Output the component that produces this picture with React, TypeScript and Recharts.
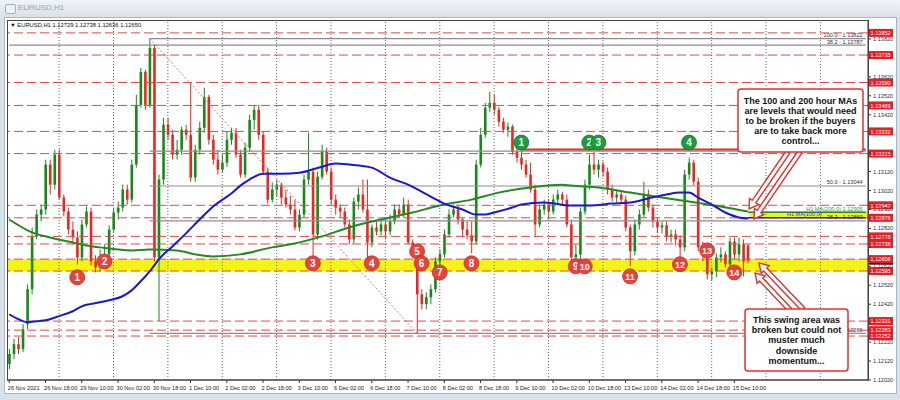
import React from "react";
import {
  Bar,
  ComposedChart,
  Line,
  ReferenceArea,
  ReferenceDot,
  ReferenceLine,
  XAxis,
  YAxis,
} from "recharts";

// EURUSD, 2-hour candles (26 Nov - 15 Dec 2021)
// one row = 16 hours = one time label on the x axis
const opens = [
  1.12104, 1.12157, 1.12209, 1.12183, 1.12315, 1.12499, 1.12778, 1.12893,
  1.1292, 1.13157, 1.13051, 1.13209, 1.12983, 1.12909, 1.12814, 1.12772,
  1.12667, 1.12841, 1.12909, 1.12646, 1.12614, 1.12657, 1.12683, 1.12814,
  1.12904, 1.1293, 1.13025, 1.12972, 1.13157, 1.13472, 1.13646, 1.13472,
  1.13772, 1.12667, 1.13078, 1.13367, 1.13314, 1.13209, 1.13235, 1.13341,
  1.13314, 1.13088, 1.13235, 1.13351, 1.13514, 1.13288, 1.13183, 1.1313,
  1.13167, 1.13288, 1.13325, 1.13209, 1.13104, 1.13246, 1.13393, 1.13446,
  1.13314, 1.1312, 1.12972, 1.13025, 1.13051, 1.12983, 1.12946, 1.1292,
  1.12825, 1.12893, 1.13078, 1.1312, 1.12788, 1.13093, 1.13225, 1.1312,
  1.12972, 1.1293, 1.12909, 1.12841, 1.12762, 1.12962, 1.12999, 1.1292,
  1.12746, 1.12825, 1.12804, 1.12841, 1.12804, 1.12857, 1.1292, 1.12893,
  1.12946, 1.12746, 1.12709, 1.12472, 1.1242, 1.12457, 1.12499, 1.12646,
  1.12683, 1.12788, 1.12893, 1.1292, 1.12867, 1.12814, 1.12783, 1.12751,
  1.13157, 1.13314, 1.13457, 1.13483, 1.13446, 1.13383, 1.13341, 1.13357,
  1.13225, 1.13193, 1.13157, 1.13104, 1.13025, 1.12841, 1.1292, 1.12946,
  1.12909, 1.12972, 1.12999, 1.12972, 1.12841, 1.12667, 1.12683, 1.12909,
  1.13051, 1.13157, 1.1313, 1.13157, 1.1312, 1.13025, 1.12983, 1.12999,
  1.12972, 1.12825, 1.12699, 1.12841, 1.12893, 1.12999, 1.1293, 1.12857,
  1.12825, 1.12836, 1.12778, 1.12788, 1.12762, 1.1272, 1.13104, 1.13167,
  1.13067, 1.1272, 1.12683, 1.12578, 1.12593, 1.12667, 1.12683, 1.1263,
  1.12751, 1.12683, 1.12736, 1.12729,
];
const highs = [
  1.12183, 1.12236, 1.12246, 1.12315, 1.12525, 1.12825, 1.1292, 1.12946,
  1.13183, 1.13183, 1.13235, 1.13235, 1.12999, 1.1293, 1.12857, 1.12804,
  1.12867, 1.12936, 1.1293, 1.12678, 1.12709, 1.12736, 1.12836, 1.1293,
  1.12962, 1.13051, 1.13051, 1.13183, 1.13525, 1.13667, 1.13657, 1.13822,
  1.13793, 1.13104, 1.13404, 1.13404, 1.13341, 1.13288, 1.13357, 1.13367,
  1.1359, 1.13262, 1.13383, 1.13562, 1.13525, 1.13314, 1.13235, 1.13209,
  1.1333, 1.13351, 1.13351, 1.13235, 1.13272, 1.1342, 1.13472, 1.13472,
  1.1333, 1.13141, 1.13062, 1.13078, 1.13062, 1.13025, 1.12993, 1.12972,
  1.1292, 1.13104, 1.13325, 1.13141, 1.1312, 1.13262, 1.13246, 1.13141,
  1.12999, 1.12946, 1.1293, 1.12867, 1.12983, 1.13036, 1.13078, 1.13078,
  1.12841, 1.12857, 1.12867, 1.12867, 1.12893, 1.12946, 1.12946, 1.12983,
  1.12972, 1.12762, 1.12725, 1.12499, 1.12483, 1.12525, 1.12667, 1.12709,
  1.12814, 1.1292, 1.12946, 1.12946, 1.12878, 1.12857, 1.12857, 1.13183,
  1.13351, 1.13483, 1.13541, 1.13525, 1.13462, 1.13404, 1.13378, 1.13367,
  1.13246, 1.13235, 1.13183, 1.13167, 1.13051, 1.12946, 1.12972, 1.12972,
  1.12999, 1.13025, 1.13014, 1.12999, 1.12867, 1.12736, 1.1293, 1.13078,
  1.13209, 1.13225, 1.13183, 1.13172, 1.13141, 1.13051, 1.13025, 1.13014,
  1.12993, 1.12841, 1.12867, 1.1292, 1.13067, 1.13025, 1.12946, 1.12878,
  1.12857, 1.12857, 1.12814, 1.12814, 1.12783, 1.1313, 1.13193, 1.13183,
  1.13088, 1.12751, 1.12709, 1.12614, 1.12688, 1.1272, 1.12699, 1.12772,
  1.12772, 1.12772, 1.12762, 1.12738,
];
const lows = [
  1.12078, 1.1213, 1.12157, 1.12167, 1.12288, 1.12472, 1.12762, 1.12857,
  1.12893, 1.12999, 1.13025, 1.12972, 1.12883, 1.12788, 1.12736, 1.1263,
  1.12646, 1.12825, 1.12625, 1.12588, 1.12593, 1.12614, 1.12667, 1.12799,
  1.12867, 1.12909, 1.12946, 1.12957, 1.13141, 1.13457, 1.13446, 1.13457,
  1.12646, 1.12331, 1.13051, 1.13288, 1.13183, 1.13183, 1.13209, 1.13288,
  1.13067, 1.13067, 1.13209, 1.13325, 1.13262, 1.13157, 1.13104, 1.13114,
  1.13146, 1.13262, 1.13193, 1.13088, 1.13088, 1.13225, 1.13341, 1.13288,
  1.13104, 1.12951, 1.12957, 1.12988, 1.12946, 1.1293, 1.12893, 1.12809,
  1.12804, 1.12878, 1.13051, 1.12651, 1.12762, 1.13078, 1.13104, 1.12946,
  1.12893, 1.12878, 1.12825, 1.12736, 1.12741, 1.1292, 1.12904, 1.12657,
  1.1272, 1.12783, 1.12783, 1.12762, 1.12783, 1.12841, 1.12878, 1.12878,
  1.12736, 1.12683, 1.12266, 1.12393, 1.12393, 1.1242, 1.12483, 1.12625,
  1.12667, 1.12772, 1.12878, 1.12841, 1.12772, 1.12762, 1.12688, 1.12736,
  1.13141, 1.13299, 1.13435, 1.1342, 1.13357, 1.13325, 1.13304, 1.13209,
  1.13167, 1.1313, 1.13088, 1.13009, 1.12778, 1.12825, 1.12893, 1.12867,
  1.12893, 1.12946, 1.12946, 1.12825, 1.12646, 1.12641, 1.12646, 1.12893,
  1.13025, 1.13104, 1.13088, 1.13093, 1.12999, 1.12962, 1.12957, 1.12951,
  1.12804, 1.1262, 1.12678, 1.12814, 1.12878, 1.12909, 1.12825, 1.12794,
  1.12794, 1.12751, 1.12746, 1.1273, 1.12667, 1.12699, 1.13078, 1.13046,
  1.12699, 1.12646, 1.12551, 1.12546, 1.12562, 1.12641, 1.12614, 1.12614,
  1.12657, 1.12646, 1.12567, 1.12636,
];
const closes = [
  1.12157, 1.12209, 1.12183, 1.12288, 1.12499, 1.12778, 1.12893, 1.1292,
  1.13157, 1.13051, 1.13209, 1.12983, 1.12909, 1.12814, 1.12772, 1.12667,
  1.12841, 1.12909, 1.12646, 1.12614, 1.12657, 1.12683, 1.12814, 1.12904,
  1.1293, 1.13025, 1.12972, 1.13157, 1.13472, 1.13646, 1.13472, 1.13772,
  1.12667, 1.13078, 1.13367, 1.13314, 1.13209, 1.13235, 1.13341, 1.13314,
  1.13088, 1.13235, 1.13351, 1.13514, 1.13288, 1.13183, 1.1313, 1.13167,
  1.13288, 1.13325, 1.13209, 1.13104, 1.13246, 1.13393, 1.13446, 1.13314,
  1.1312, 1.12972, 1.13025, 1.13051, 1.12983, 1.12946, 1.1292, 1.12825,
  1.12893, 1.13078, 1.1312, 1.12788, 1.13093, 1.13225, 1.1312, 1.12972,
  1.1293, 1.12909, 1.12841, 1.12762, 1.12962, 1.12999, 1.1292, 1.12746,
  1.12825, 1.12804, 1.12841, 1.12804, 1.12857, 1.1292, 1.12893, 1.12946,
  1.12746, 1.12709, 1.12472, 1.1242, 1.12457, 1.12499, 1.12646, 1.12683,
  1.12788, 1.12893, 1.1292, 1.12867, 1.12814, 1.12783, 1.12751, 1.13157,
  1.13314, 1.13457, 1.13483, 1.13446, 1.13383, 1.13341, 1.13357, 1.13225,
  1.13193, 1.13157, 1.13104, 1.13025, 1.12841, 1.1292, 1.12946, 1.12909,
  1.12972, 1.12999, 1.12972, 1.12841, 1.12667, 1.12683, 1.12909, 1.13051,
  1.13157, 1.1313, 1.13157, 1.1312, 1.13025, 1.12983, 1.12999, 1.12972,
  1.12825, 1.12699, 1.12841, 1.12893, 1.12999, 1.1293, 1.12857, 1.12825,
  1.12836, 1.12778, 1.12788, 1.12762, 1.1272, 1.13104, 1.13167, 1.13067,
  1.1272, 1.12683, 1.12578, 1.12593, 1.12667, 1.12683, 1.1263, 1.12751,
  1.12683, 1.12736, 1.12646, 1.1265,
];

// moving averages, read at [candle index, price]
const ma100: [number, number][] = [
  [0, 1.12367], [2, 1.12341], [4, 1.12325], [6, 1.1233], [9, 1.12341], [11, 1.12357],
  [14, 1.12383], [16, 1.12409], [20, 1.1243], [22, 1.12441], [25, 1.12462], [27, 1.12493],
  [29, 1.12541], [31, 1.12593], [33, 1.12657], [36, 1.12725], [39, 1.12794], [42, 1.12867],
  [45, 1.12936], [49, 1.13004], [51, 1.13046], [53, 1.13078], [56, 1.13109], [60, 1.13109],
  [64, 1.13114], [69, 1.13146], [72, 1.13162], [75, 1.13157], [80, 1.13141], [84, 1.13088],
  [88, 1.13051], [93, 1.12988], [96, 1.12951], [100, 1.1292], [103, 1.12893], [105, 1.12893],
  [107, 1.12904], [111, 1.1293], [113, 1.12946], [118, 1.12957], [124, 1.12941], [128, 1.12941],
  [133, 1.12951], [137, 1.12957], [141, 1.12978], [145, 1.12999], [148, 1.13009], [150, 1.13009],
  [152, 1.12983], [155, 1.12946], [158, 1.12904], [161, 1.12878], [163, 1.12872],
];
const ma200: [number, number][] = [
  [0, 1.12867], [5, 1.12799], [9, 1.12772], [13, 1.12751], [17, 1.1273], [20, 1.1272],
  [27, 1.12704], [31, 1.12709], [37, 1.12704], [41, 1.12683], [45, 1.12672], [51, 1.12683],
  [58, 1.1272], [62, 1.12736], [69, 1.12778], [75, 1.12825], [82, 1.12867], [89, 1.12904],
  [95, 1.12941], [102, 1.12972], [108, 1.13009], [115, 1.13036], [122, 1.13051], [124, 1.13046],
  [130, 1.13036], [137, 1.13009], [144, 1.12983], [150, 1.12962], [157, 1.12936], [163, 1.12909],
];

const timeLabels = [
  "26 Nov 2021", "26 Nov 18:00", "29 Nov 10:00", "30 Nov 02:00", "30 Nov 18:00",
  "1 Dec 10:00", "2 Dec 02:00", "2 Dec 18:00", "3 Dec 10:00", "6 Dec 02:00",
  "6 Dec 18:00", "7 Dec 10:00", "8 Dec 02:00", "8 Dec 18:00", "9 Dec 10:00",
  "10 Dec 02:00", "10 Dec 18:00", "13 Dec 10:00", "14 Dec 02:00", "14 Dec 18:00",
  "15 Dec 10:00",
];
const priceTicks = [
  1.1202, 1.1212, 1.1222, 1.1232, 1.1242, 1.1252, 1.1262, 1.1272, 1.1282, 1.1292,
  1.1302, 1.1312, 1.1322, 1.1332, 1.1342, 1.1352, 1.1362, 1.1372, 1.1382,
];
const redLevels = [
  1.13852, 1.13735, 1.1359, 1.13469, 1.13332, 1.13215, 1.12942, 1.12876,
  1.12778, 1.12738, 1.12658, 1.12595, 1.12331, 1.12283, 1.12252,
];
// fibonacci lines: [start index, price, label]
const fibLines: [number, number, string][] = [
  [31, 1.13822, "100.0 - 1.13822"],
  [0, 1.13787, "38.2 - 1.13787"],
  [31, 1.13228, "61.8 - 1.13228"],
  [31, 1.13044, "50.0 - 1.13044"],
  [31, 1.1286, "38.2 - 1.12860"],
  [31, 1.12266, "1.12266"],
];
const swingLow = [1.12595, 1.12658];
const maZone = [1.12876, 1.12912];
const resistance = 1.13236;
const lastPrice = 1.1265;
// [label, candle index, price, colour]
const markers: [string, number, number, string][] = [
  ["1", 15, 1.12562, "r"], ["2", 21, 1.12646, "r"], ["3", 67, 1.12636, "r"],
  ["4", 80, 1.12636, "r"], ["5", 90, 1.12699, "r"], ["6", 91, 1.12636, "r"],
  ["7", 95, 1.12588, "r"], ["8", 102, 1.12636, "r"], ["9", 125, 1.1262, "r"],
  ["10", 127, 1.1262, "r"], ["11", 137, 1.12567, "r"], ["12", 148, 1.12631, "r"],
  ["13", 154, 1.12704, "r"], ["14", 160, 1.12588, "r"],
  ["1", 113, 1.13273, "g"], ["2", 128, 1.13273, "g"], ["3", 130, 1.13273, "g"],
  ["4", 150, 1.13273, "g"],
];

const SLOTS = 190;
const FONT = "'Liberation Sans', Arial, sans-serif";

const ma100At = new Map(ma100);
const ma200At = new Map(ma200);
const rows = Array.from({ length: SLOTS }, (_, i) => {
  const row: any = { i, ma100: ma100At.get(i) ?? null, ma200: ma200At.get(i) ?? null };
  if (i < opens.length) {
    row.o = opens[i];
    row.h = highs[i];
    row.l = lows[i];
    row.c = closes[i];
    row.hl = [lows[i], highs[i]];
  }
  return row;
});
const labelTicks = timeLabels.map((_, k) => k * 8);
const gridTicks = Array.from({ length: 15 }, (_, k) => 11 + k * 12);

const Candle = (props: any) => {
  const { x, y, width, height, payload } = props;
  if (!payload || payload.o == null) return <g />;
  const { o, h, l, c } = payload;
  const top = Math.min(y, y + height);
  const bot = Math.max(y, y + height);
  const py = (v: number) => (h === l ? top : top + ((h - v) / (h - l)) * (bot - top));
  const cx = x + width / 2;
  const col = c >= o ? "#16891a" : "#e8281f";
  const yo = py(o);
  const yc = py(c);
  return (
    <g>
      <line x1={cx} x2={cx} y1={top} y2={bot} stroke={col} strokeWidth={1} />
      <rect x={cx - 1.3} y={Math.min(yo, yc)} width={2.6} height={Math.max(1, Math.abs(yc - yo))} fill={col} />
    </g>
  );
};

const TimeTick = ({ x, y, payload }: any) => (
  <text x={x - 1.5} y={y + 5} fontSize={5.6} fill="#222" fontFamily={FONT} textAnchor="start">
    {timeLabels[Math.round(payload.value / 8)]}
  </text>
);

// plain price labels; the ones sitting right under a red level tag are covered in the original
const PriceTick = ({ x, y, payload }: any) => {
  const v = payload.value;
  if (redLevels.some((r) => Math.abs(r - v) < 0.0002)) return <g />;
  return (
    <text x={x} y={y + 2} fontSize={5.6} fill="#333" fontFamily={FONT} textAnchor="start">
      {v.toFixed(5)}
    </text>
  );
};

const PriceTag = ({ viewBox, text, bg }: any) => {
  if (!viewBox) return null;
  const lx = viewBox.x + viewBox.width + 1;
  const y = viewBox.y;
  return (
    <g>
      <rect x={lx} y={y - 4} width={24} height={8} fill={bg} />
      <text x={lx + 1.5} y={y + 2.2} fontSize={5.6} fill="#fff" fontFamily={FONT}>
        {text}
      </text>
    </g>
  );
};

const FibTag = ({ viewBox, text, fill, shift = 0 }: any) => {
  if (!viewBox) return null;
  return (
    <text
      x={viewBox.x + viewBox.width - 3 - shift}
      y={viewBox.y - 1.5}
      fontSize={5.6}
      fill={fill || "#333"}
      fontFamily={FONT}
      textAnchor="end"
    >
      {text}
    </text>
  );
};

const Marker = (label: string, kind: string) => (p: any) => {
  const fill = kind === "g" ? "#1f9a3c" : "#e5433b";
  return (
    <g>
      <circle cx={p.cx} cy={p.cy} r={7.5} fill={fill} stroke={kind === "g" ? "#137a2b" : "#c2302a"} strokeWidth={0.8} />
      <text x={p.cx} y={p.cy + 3.4} fontSize={label.length > 1 ? 9 : 10} fontWeight="bold" fill="#fff" textAnchor="middle" fontFamily={FONT}>
        {label}
      </text>
    </g>
  );
};

function hollowArrow(x1: number, y1: number, x2: number, y2: number) {
  const dx = x2 - x1;
  const dy = y2 - y1;
  const len = Math.hypot(dx, dy);
  const ux = dx / len;
  const uy = dy / len;
  const nx = -uy;
  const ny = ux;
  const sw = 2.2;
  const hw = 5.5;
  const hl = 9;
  const bx = x2 - ux * hl;
  const by = y2 - uy * hl;
  const pts = [
    [x1 + nx * sw, y1 + ny * sw],
    [bx + nx * sw, by + ny * sw],
    [bx + nx * hw, by + ny * hw],
    [x2, y2],
    [bx - nx * hw, by - ny * hw],
    [bx - nx * sw, by - ny * sw],
    [x1 - nx * sw, y1 - ny * sw],
  ];
  return pts.map((q) => q.join(",")).join(" ");
}

const box1Lines = [
  "The 100 and 200 hour MAs",
  "are levels that would need",
  "to be broken if the buyers",
  "are to take back more",
  "control...",
];
const box2Lines = ["This swing area was", "broken but could not", "muster much", "downside", "momentum..."];

export default function App() {
  return (
    <div style={{ position: "fixed", left: 0, top: 0, width: 900, height: 400, background: "#d9e1ea", overflow: "hidden", fontFamily: FONT }}>
      <div style={{ position: "absolute", left: 0, top: 0, width: 900, height: 17, background: "linear-gradient(#f1f4f8, #d9e1ea)" }} />
      <div style={{ position: "absolute", left: 5, top: 4, width: 9, height: 8, border: "1px solid #9fb0c2", borderRadius: 2, background: "#eef3f8" }} />
      <div style={{ position: "absolute", left: 18, top: 3, fontSize: 8, color: "#93a1b0" }}>EURUSD,H1</div>
      <div style={{ position: "absolute", left: 4, top: 17, width: 893, height: 377, background: "#fff", border: "1px solid #aab6c4", boxSizing: "border-box" }} />
      <div style={{ position: "absolute", left: 0, top: 0 }}>
        <ComposedChart width={900} height={400} data={rows} margin={{ top: 20, right: 2, bottom: 6, left: 7 }}>
          <ReferenceArea y1={swingLow[0]} y2={swingLow[1]} fill="#f3f316" fillOpacity={1} stroke="none" ifOverflow="hidden" />
          <ReferenceArea x1={164} x2={189} y1={maZone[0]} y2={maZone[1]} fill="#f3f316" fillOpacity={1} stroke="none" />
          {gridTicks.map((g) => (
            <ReferenceLine key={"g" + g} x={g} stroke="#666" strokeDasharray="1 2" />
          ))}
          {fibLines.map(([s, v, t]) => (
            <ReferenceLine
              key={"f" + t}
              segment={[{ x: s, y: v }, { x: SLOTS - 1, y: v }]}
              stroke="#8d8d8d"
              strokeWidth={1.2}
              label={<FibTag text={t} />}
            />
          ))}
          <ReferenceLine
            segment={[{ x: 31, y: 1.13822 }, { x: 90, y: 1.12266 }]}
            stroke="#c98080"
            strokeDasharray="2 2"
          />
          <ReferenceLine y={lastPrice} stroke="none" label={<PriceTag text="1.12650" bg="#111" />} />
          {redLevels.map((v) => (
            <ReferenceLine
              key={"r" + v}
              y={v}
              stroke="#e2474c"
              strokeDasharray="9 4"
              label={<PriceTag text={v.toFixed(5)} bg="#ec1c24" />}
            />
          ))}
          <ReferenceLine segment={[{ x: 113, y: resistance }, { x: SLOTS - 1, y: resistance }]} stroke="#e62a2a" strokeWidth={2} />
          <ReferenceLine
            segment={[{ x: 163, y: 1.12905 }, { x: SLOTS - 1, y: 1.12905 }]}
            stroke="#2c8a2c"
            strokeWidth={1.5}
            label={<FibTag text="H1 MA(200,0) 1.12905" fill="#3a9a3a" />}
          />
          <ReferenceLine
            segment={[{ x: 163, y: 1.12876 }, { x: SLOTS - 1, y: 1.12876 }]}
            stroke="#1b1bd0"
            strokeWidth={1.5}
            label={<FibTag text="H1 MA(100,0)" fill="#3a3ad0" shift={41} />}
          />
          <XAxis
            dataKey="i"
            type="category"
            ticks={labelTicks}
            interval={0}
            tick={<TimeTick />}
            tickSize={3}
            height={14}
            axisLine={{ stroke: "#333" }}
            tickLine={{ stroke: "#333" }}
          />
          <YAxis
            orientation="right"
            type="number"
            domain={[1.1202, 1.1392]}
            allowDataOverflow
            ticks={priceTicks}
            interval={0}
            tick={<PriceTick />}
            tickSize={3}
            width={30}
            axisLine={{ stroke: "#333" }}
            tickLine={{ stroke: "#333" }}
          />
          <Bar dataKey="hl" shape={<Candle />} isAnimationActive={false} />
          <Line dataKey="ma200" type="monotone" stroke="#238a23" strokeWidth={2} dot={false} connectNulls isAnimationActive={false} />
          <Line dataKey="ma100" type="monotone" stroke="#1818d2" strokeWidth={2} dot={false} connectNulls isAnimationActive={false} />
          {markers.map(([t, i, v, k], n) => (
            <ReferenceDot key={"m" + n} x={i} y={v} r={7.5} shape={Marker(t, k)} />
          ))}
        </ComposedChart>
      </div>
      <svg width={900} height={400} style={{ position: "absolute", left: 0, top: 0, pointerEvents: "none" }}>
        <rect x={7.5} y={20.5} width={861} height={359.5} fill="none" stroke="#444" />
        <text x={10} y={26.5} fontSize={5.8} fill="#111" fontFamily={FONT}>
          ▼ EURUSD,H1  1.12729 1.12738 1.12636 1.12650
        </text>
        {[
          [788, 152, 749, 209],
          [800, 152, 754, 219],
          [803, 309, 759, 263],
          [790, 310, 755, 273],
        ].map(([a, b, c, d], k) => (
          <polygon key={k} points={hollowArrow(a, b, c, d)} fill="#fff" stroke="#e3312d" strokeWidth={1.4} strokeLinejoin="miter" />
        ))}
        <rect x={738} y={89} width={125} height={63} rx={3} fill="#fff" stroke="#e3312d" strokeWidth={1.5} />
        {box1Lines.map((t, k) => (
          <text key={t} x={800.5} y={104 + k * 10} fontSize={9} fontWeight="bold" fill="#111" textAnchor="middle" fontFamily={FONT}>
            {t}
          </text>
        ))}
        <rect x={745} y={309} width={103} height={62} rx={3} fill="#fff" stroke="#e3312d" strokeWidth={1.5} />
        {box2Lines.map((t, k) => (
          <text key={t} x={796.5} y={322.5 + k * 10.4} fontSize={9} fontWeight="bold" fill="#111" textAnchor="middle" fontFamily={FONT}>
            {t}
          </text>
        ))}
      </svg>
    </div>
  );
}
